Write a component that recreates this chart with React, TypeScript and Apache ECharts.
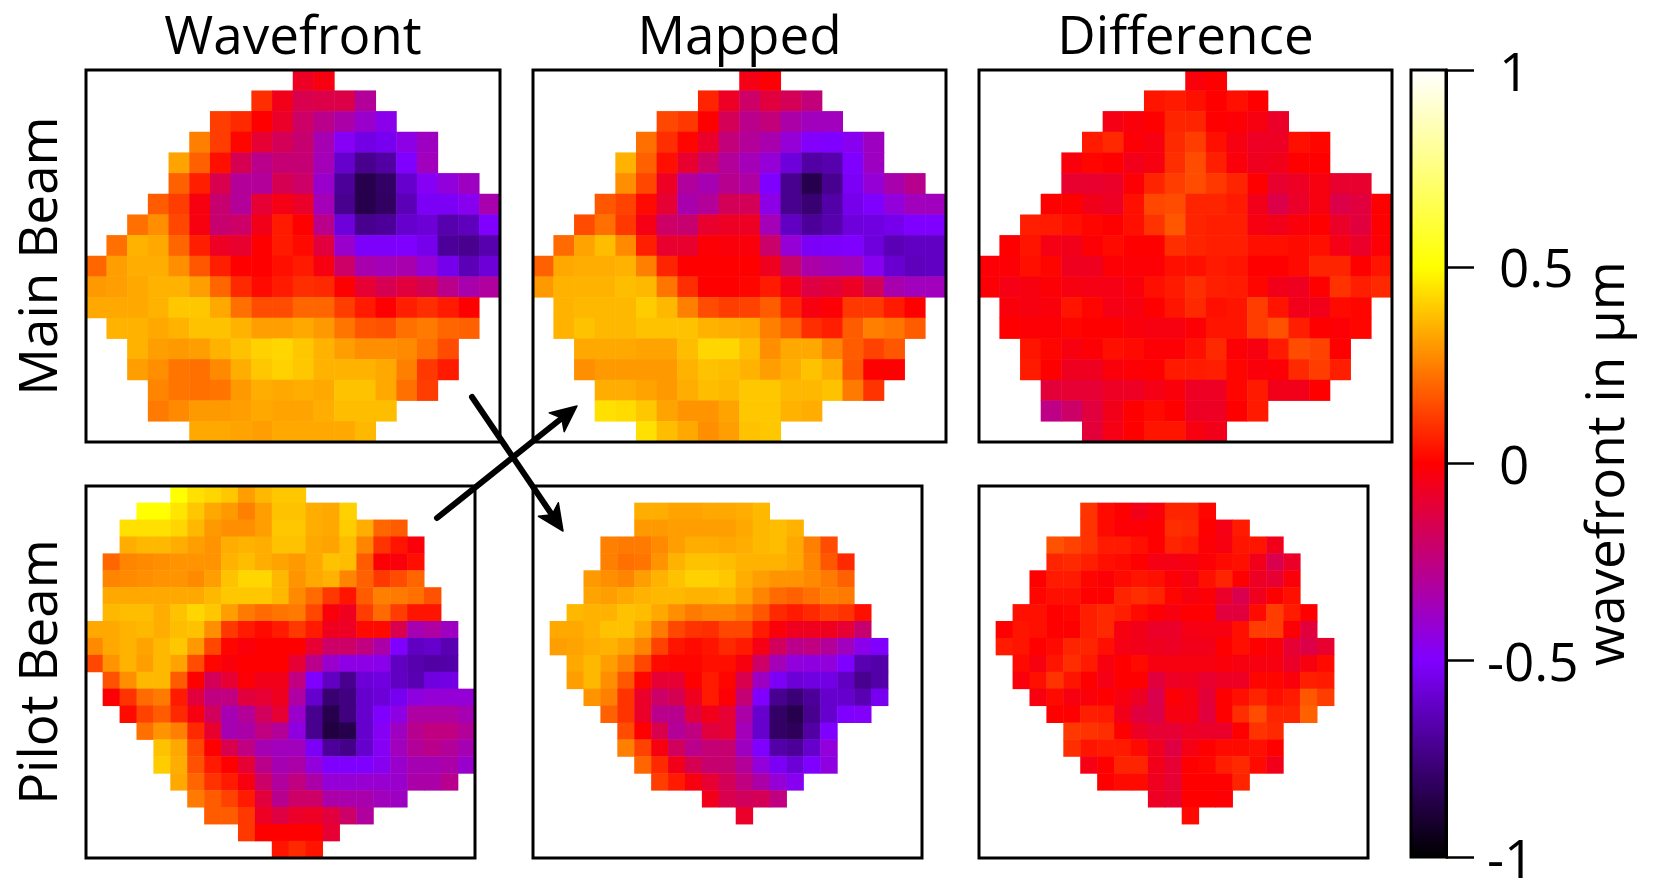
import React, { useEffect, useRef } from "react";
import * as echarts from "echarts";

const FONT = '"Open Sans", sans-serif';
const colormap = ["#000000", "#8000ff", "#ff0000", "#ffff00", "#ffffff"];
const legendTicks = [-1, -0.5, 0, 0.5, 1];
const columnTitles = ["Wavefront", "Mapped", "Difference"];
const rowTitles = ["Main Beam", "Pilot Beam"];
const legendTitle = "wavefront in µm";

const mainStart = [10, 8, 6, 5, 4, 4, 3, 2, 1, 0, 0, 1, 1, 2, 2, 3, 3, 5];
const mainWavefrontStart = [10, 8, 6, 5, 4, 4, 3, 2, 1, 0, 0, 0, 1, 2, 2, 3, 3, 5];
const pilotWavefrontStart = [5, 3, 2, 2, 1, 1, 1, 1, 0, 0, 0, 1, 1, 2, 3, 4, 4, 5, 6, 7, 9, 11];
const pilotStart = [0, 6, 6, 4, 4, 3, 3, 2, 1, 1, 2, 2, 3, 4, 5, 5, 6, 7, 10, 12, 0, 0];

const mainWavefront = [
  [-.07, -.03],
  [.09, -.05, -.15, -.14, -.14, -.3],
  [.12, .08, 0, -.08, -.2, -.27, -.33, -.4, -.46],
  [.25, .12, .01, -.1, -.17, -.22, -.35, -.48, -.55, -.53, -.45, -.38],
  [.32, .19, .03, -.16, -.27, -.23, -.23, -.36, -.6, -.72, -.68, -.5, -.37],
  [.19, .06, -.15, -.3, -.3, -.16, -.2, -.4, -.7, -.85, -.8, -.6, -.48, -.43, -.38],
  [.18, .12, -.03, -.22, -.3, -.1, -.04, -.08, -.36, -.72, -.85, -.81, -.64, -.52, -.52, -.47, -.34],
  [.22, .28, .14, -.03, -.22, -.2, -.05, .05, 0, -.27, -.57, -.72, -.7, -.6, -.58, -.66, -.63, -.5],
  [.22, .35, .33, .2, .06, -.07, -.09, 0, .05, .02, -.12, -.4, -.51, -.51, -.5, -.54, -.7, -.72, -.66],
  [.2, .31, .34, .34, .28, .17, .06, 0, 0, .03, .05, -.03, -.2, -.34, -.36, -.34, -.42, -.54, -.64, -.58],
  [.3, .31, .33, .35, .35, .31, .2, .08, .02, .05, .09, .08, 0, -.1, -.16, -.12, -.16, -.27, -.34, -.31],
  [.33, .33, .33, .35, .39, .39, .33, .22, .15, .15, .2, .2, .12, .05, 0, .06, .09, .05, 0],
  [.35, .35, .33, .35, .38, .38, .35, .31, .31, .33, .3, .23, .17, .16, .22, .24, .2, .19],
  [.35, .31, .3, .31, .35, .38, .41, .42, .39, .35, .31, .28, .28, .27, .22, .15],
  [.31, .28, .23, .22, .27, .34, .39, .41, .39, .35, .35, .35, .33, .25, .11, .05],
  [.26, .23, .22, .23, .3, .34, .33, .34, .33, .38, .38, .33, .22, .12],
  [.24, .27, .3, .3, .31, .33, .32, .32, .34, .37, .37, .37],
  [.33, .33, .32, .31, .33, .33, .33, .33, .36],
];

const mainMapped = [
  [-.04, -.01],
  [.07, -.07, -.2, -.12, -.17, -.24],
  [.14, .11, 0, -.17, -.27, -.24, -.33, -.37, -.37],
  [.22, .09, .01, -.08, -.24, -.3, -.34, -.42, -.49, -.5, -.47, -.38],
  [.35, .19, .03, -.09, -.2, -.3, -.36, -.42, -.57, -.68, -.66, -.5, -.38],
  [.28, .14, -.07, -.31, -.35, -.28, -.32, -.5, -.72, -.85, -.72, -.52, -.42, -.34, -.28],
  [.17, .13, .02, -.1, -.34, -.3, -.17, -.17, -.45, -.72, -.78, -.67, -.54, -.5, -.43, -.37, -.37],
  [.15, .22, .11, -.04, -.2, -.22, -.09, -.07, -.07, -.36, -.62, -.7, -.66, -.57, -.56, -.54, -.5, -.5],
  [.21, .32, .37, .27, .06, -.09, -.09, -.01, -.02, -.02, -.21, -.42, -.52, -.51, -.5, -.57, -.64, -.62, -.62],
  [.19, .33, .34, .34, .35, .25, .07, 0, 0, 0, 0, -.06, -.21, -.33, -.35, -.37, -.47, -.59, -.63, -.62],
  [.3, .35, .35, .35, .37, .36, .23, .09, 0, 0, .01, .05, -.04, -.13, -.11, -.07, -.17, -.34, -.37, -.37],
  [.35, .36, .36, .36, .4, .36, .25, .15, .12, .13, .18, .07, -.03, -.01, .11, .11, .05, 0],
  [.35, .38, .36, .36, .38, .38, .38, .35, .34, .33, .25, .19, .09, .06, .18, .25, .23, .18],
  [.33, .33, .33, .32, .32, .37, .42, .42, .37, .28, .33, .33, .26, .18, .13, .17],
  [.28, .3, .3, .3, .3, .35, .38, .37, .35, .31, .34, .38, .34, .17, 0, 0],
  [.34, .34, .32, .3, .34, .37, .36, .39, .39, .36, .36, .38, .24, .1],
  [.44, .43, .39, .32, .29, .29, .32, .39, .39, .35, .34],
  [.44, .37, .33, .28, .31, .38, .39],
];

const mainDifference = [
  [-.02, 0],
  [.04, .05, .03, 0, .03, 0],
  [-.04, -.02, 0, .07, .07, 0, -.01, -.03, -.08],
  [.05, .08, -.01, -.03, .08, .12, .03, -.03, -.07, -.07, .03, .01],
  [-.02, .01, 0, -.05, -.03, .09, .15, .06, -.02, -.06, -.05, 0, 0],
  [-.09, -.09, -.08, -.01, .07, .12, .15, .11, .07, 0, -.09, -.07, -.03, -.09, -.09],
  [0, 0, -.05, -.07, .03, .14, .15, .07, .07, .05, -.05, -.14, -.08, -.03, -.14, -.12, 0],
  [.06, .05, .03, .01, 0, .03, .1, .17, .07, .06, .06, -.03, -.05, -.02, 0, -.08, -.12, 0],
  [0, .04, -.04, -.05, -.01, .02, 0, 0, .09, .07, .06, .06, .03, .03, .02, .03, -.04, -.08, -.01],
  [-.01, -.01, .03, .01, -.06, -.06, -.01, -.01, -.01, .03, .03, .05, .04, 0, 0, .02, .07, .07, 0, .04],
  [-.01, -.04, -.03, -.01, -.03, -.04, -.04, -.02, .03, .05, .09, .06, .05, .01, -.05, -.06, 0, .1, .06, .08],
  [-.02, -.03, -.02, .04, .01, -.04, -.03, 0, .04, .08, .03, .04, .12, .04, -.05, -.05, .02, .01],
  [0, -.01, -.01, .01, 0, 0, -.02, -.03, -.03, -.01, .04, .04, .12, .16, .06, 0, -.01, .01],
  [.04, .01, -.03, -.01, .03, .02, -.01, -.01, .03, .08, -.01, -.03, .05, .15, .13, 0],
  [.05, 0, -.06, -.06, -.02, -.01, 0, .05, .05, .06, .01, -.02, -.01, .08, .12, .06],
  [-.11, -.1, -.1, -.07, -.07, -.04, -.02, -.07, -.07, .01, .05, -.05, -.05, 0],
  [-.26, -.2, -.12, -.05, 0, .02, 0, -.07, -.07, 0, .05],
  [-.11, -.04, 0, .04, .04, -.03, -.05],
];

const pilotWavefront = [
  [.5, .44, .42, .39, .31, .36, .39, .39],
  [.5, .5, .45, .39, .33, .3, .25, .31, .38, .38, .34, .33, .41],
  [.44, .44, .44, .42, .36, .3, .28, .28, .31, .39, .39, .34, .33, .4, .34, .2, .18],
  [.34, .36, .36, .34, .31, .29, .34, .35, .34, .38, .38, .33, .32, .37, .26, .1, .04, -.02],
  [.2, .26, .27, .28, .29, .29, .29, .35, .37, .34, .32, .3, .33, .38, .37, .18, -.01, -.02, .03],
  [.26, .27, .28, .29, .29, .27, .31, .38, .42, .42, .36, .29, .33, .35, .26, .19, .11, .15, .2],
  [.33, .33, .33, .33, .33, .33, .36, .39, .39, .39, .36, .27, .21, .11, .04, .18, .25, .24, .22, .16],
  [.36, .37, .37, .34, .38, .42, .39, .31, .24, .21, .23, .24, .14, -.02, -.06, .12, .21, .12, .04, .04],
  [.33, .33, .35, .36, .34, .37, .38, .28, .11, .05, .02, .05, .11, .05, -.06, -.07, .02, .02, -.15, -.35, -.32, -.38],
  [.27, .33, .35, .32, .36, .39, .3, .14, .01, -.02, 0, 0, 0, -.1, -.2, -.2, -.25, -.33, -.5, -.62, -.6, -.65],
  [.14, .29, .35, .31, .36, .32, .15, .01, -.02, 0, 0, 0, -.1, -.27, -.4, -.45, -.45, -.46, -.62, -.66, -.68, -.67],
  [.16, .28, .36, .36, .18, 0, -.17, -.1, -.01, -.05, -.05, -.25, -.5, -.62, -.72, -.58, -.56, -.62, -.65, -.56, -.55],
  [-.01, .1, .21, .24, .05, -.12, -.25, -.25, -.12, -.1, -.06, -.32, -.6, -.78, -.75, -.6, -.58, -.53, -.44, -.42, -.42, -.42],
  [.02, .13, .18, .08, -.03, -.18, -.35, -.3, -.18, -.1, -.4, -.72, -.85, -.75, -.6, -.5, -.45, -.32, -.32, -.32, -.35],
  [.22, .29, .25, .08, -.09, -.35, -.33, -.25, -.3, -.44, -.72, -.87, -.85, -.6, -.48, -.38, -.28, -.25, -.25, -.3],
  [.38, .33, .14, 0, -.15, -.25, -.35, -.37, -.37, -.52, -.7, -.73, -.6, -.48, -.37, -.3, -.27, -.3, -.35],
  [.4, .34, .16, .05, 0, -.1, -.27, -.35, -.33, -.43, -.5, -.5, -.5, -.47, -.4, -.35, -.35, -.33, -.4],
  [.33, .2, .1, .05, -.03, -.2, -.31, -.25, -.33, -.42, -.42, -.41, -.41, -.4, -.33, -.33, -.28],
  [.24, .18, .13, .05, -.12, -.28, -.2, -.2, -.33, -.34, -.34, -.37, -.38],
  [.18, .18, .11, -.07, -.13, -.08, -.07, -.12, -.2, -.31],
  [.11, 0, 0, 0, 0, -.1],
  [.04, .08, .04],
];

const pilotMapped = [
  [],
  [.34, .34, .32, .32, .33, .33, .34, .36],
  [.3, .3, .31, .31, .31, .31, .33, .36, .37, .35],
  [.25, .24, .24, .27, .31, .34, .34, .33, .34, .36, .37, .33, .25, .15],
  [.25, .22, .23, .29, .35, .38, .38, .37, .35, .35, .35, .33, .26, .17, .08],
  [.3, .28, .26, .31, .35, .38, .41, .41, .39, .34, .31, .29, .29, .27, .24, .19],
  [.32, .31, .33, .35, .36, .36, .35, .35, .36, .32, .26, .21, .19, .22, .25, .24],
  [.36, .35, .35, .38, .37, .33, .28, .24, .26, .26, .23, .17, .08, .05, .08, .12, .1, .03],
  [.33, .33, .35, .38, .38, .33, .24, .14, .1, .09, .14, .14, .05, -.02, -.06, -.06, -.06, -.1, -.22],
  [.31, .32, .34, .35, .32, .26, .13, .04, .02, .04, .08, .05, -.04, -.18, -.27, -.25, -.3, -.37, -.46, -.5],
  [.33, .36, .31, .25, .14, .02, .01, .01, .03, .03, -.03, -.2, -.36, -.43, -.44, -.43, -.5, -.65, -.67],
  [.31, .36, .28, .17, .01, -.1, -.1, 0, .05, .01, -.15, -.38, -.52, -.58, -.56, -.55, -.62, -.72, -.67],
  [.29, .25, .1, -.08, -.2, -.16, -.06, .05, -.01, -.23, -.5, -.72, -.77, -.7, -.6, -.6, -.65, -.53],
  [.19, .1, -.08, -.27, -.28, -.12, -.05, -.1, -.33, -.6, -.8, -.85, -.72, -.6, -.5, -.49],
  [.15, 0, -.15, -.3, -.25, -.12, -.1, -.36, -.6, -.8, -.82, -.68, -.5],
  [.25, .13, -.03, -.18, -.27, -.23, -.22, -.38, -.5, -.67, -.7, -.6, -.43],
  [.2, .08, -.05, -.16, -.22, -.22, -.3, -.43, -.52, -.58, -.5, -.44],
  [.12, .05, -.03, -.1, -.17, -.25, -.33, -.42, -.47],
  [-.05, -.15, -.18, -.17, -.25],
  [-.08],
  [],
  [],
];

const pilotDifference = [
  [],
  [.1, .02, 0, -.05, -.02, .07, .07, .01],
  [.1, .02, -.01, -.01, 0, .09, .08, 0, -.04, .05],
  [.16, .13, .1, .05, .05, .03, 0, .07, .05, -.01, -.03, .04, .04, -.05],
  [.07, .08, .06, .03, .02, 0, -.04, -.04, -.03, -.01, .02, .03, -.05, -.15, -.08],
  [0, .05, .05, .01, -.01, .02, .04, .03, -.01, -.04, .03, .07, 0, -.07, -.1, -.02],
  [.01, .03, .03, 0, 0, .07, .09, .07, .01, -.03, -.01, -.08, -.15, -.06, 0, .03],
  [.03, .03, 0, .01, .06, .08, .06, .02, -.01, -.03, 0, 0, -.12, -.12, .02, .12, .05, 0],
  [0, .04, .03, 0, 0, .06, .08, -.03, -.05, -.08, -.08, -.04, -.03, -.03, .03, .12, .12, -.01, -.12],
  [.05, .04, 0, .02, .07, .07, .03, -.04, -.05, -.06, -.07, -.05, -.05, 0, .03, 0, -.02, -.1, -.14, -.09],
  [.02, -.03, .04, .09, .05, -.03, 0, .02, -.03, -.03, -.03, -.03, -.02, -.03, -.03, -.03, -.08, -.03, .02],
  [-.02, .03, .1, .04, 0, -.04, 0, 0, -.12, -.07, -.06, -.09, -.07, -.07, .01, .01, -.02, .06, .05],
  [-.03, .02, -.03, -.02, 0, -.03, -.07, -.15, -.01, -.03, -.11, 0, .03, .07, .03, .05, .17, .12],
  [0, 0, .06, .05, -.05, -.12, -.14, -.03, -.03, -.12, 0, .09, .15, .07, .07, .19],
  [.11, .1, .09, 0, -.07, -.1, -.1, -.07, -.08, -.08, 0, .1, .08],
  [.09, .04, .05, .05, .02, -.06, -.13, -.04, 0, .02, .02, .03, 0],
  [-.04, 0, .07, .07, -.05, -.1, 0, .01, .06, .08, .02, -.05],
  [0, .02, .02, -.06, -.1, 0, 0, 0, .07],
  [-.07, -.09, 0, 0, -.01],
  [.02],
  [],
  [],
];

const panels = [
  { rows: mainWavefront, starts: mainWavefrontStart, cols: 20, nRows: 18, left: 86, top: 70, width: 414, col: 0, row: 0 },
  { rows: mainMapped, starts: mainStart, cols: 20, nRows: 18, left: 533, top: 70, width: 413, col: 1, row: 0 },
  { rows: mainDifference, starts: mainStart, cols: 20, nRows: 18, left: 979, top: 70, width: 413, col: 2, row: 0 },
  { rows: pilotWavefront, starts: pilotWavefrontStart, cols: 23, nRows: 22, left: 86, top: 486, width: 389, col: 0, row: 1 },
  { rows: pilotMapped, starts: pilotStart, cols: 23, nRows: 22, left: 533, top: 486, width: 389, col: 1, row: 1 },
  { rows: pilotDifference, starts: pilotStart, cols: 23, nRows: 22, left: 979, top: 486, width: 389, col: 2, row: 1 },
];

const arrows = [
  { from: [472, 397], to: [563, 531] },
  { from: [437, 518], to: [577, 406] },
];

function arrowGraphics() {
  const out: any[] = [];
  for (const { from, to } of arrows) {
    const dx = to[0] - from[0];
    const dy = to[1] - from[1];
    const len = Math.hypot(dx, dy);
    const ux = dx / len;
    const uy = dy / len;
    const L = 26;
    const W = 12;
    out.push({
      type: "line",
      z: 20,
      shape: { x1: from[0], y1: from[1], x2: to[0] - ux * L * 0.6, y2: to[1] - uy * L * 0.6 },
      style: { stroke: "#000", lineWidth: 6, lineCap: "round" },
    });
    out.push({
      type: "polygon",
      z: 20,
      shape: {
        points: [
          to,
          [to[0] - ux * L - uy * W, to[1] - uy * L + ux * W],
          [to[0] - ux * L * 0.75, to[1] - uy * L * 0.75],
          [to[0] - ux * L + uy * W, to[1] - uy * L - ux * W],
        ],
      },
      style: { fill: "#000", stroke: "#000", lineWidth: 1.5, lineJoin: "round" },
    });
  }
  return out;
}

function buildOption() {
  const nameStyle = { fontFamily: FONT, fontSize: 53, color: "#000" };
  const grid: any[] = [];
  const xAxis: any[] = [];
  const yAxis: any[] = [];
  const series: any[] = [];
  panels.forEach((p, i) => {
    grid.push({
      left: p.left,
      top: p.top,
      width: p.width,
      height: 372,
      show: true,
      z: 5,
      outerBoundsMode: "none",
      backgroundColor: "transparent",
      borderColor: "#000",
      borderWidth: 3,
    });
    const hidden = {
      axisLine: { show: false },
      axisTick: { show: false },
      axisLabel: { show: false },
      splitLine: { show: false },
      splitArea: { show: false },
    };
    xAxis.push({
      type: "category",
      gridIndex: i,
      position: "top",
      data: Array.from({ length: p.cols }, (_, k) => String(k)),
      name: p.row === 0 ? columnTitles[p.col] : "",
      nameLocation: "middle",
      nameGap: 10,
      nameTextStyle: nameStyle,
      ...hidden,
    });
    yAxis.push({
      type: "category",
      gridIndex: i,
      inverse: true,
      data: Array.from({ length: p.nRows }, (_, k) => String(k)),
      name: p.col === 0 ? rowTitles[p.row] : "",
      nameLocation: "middle",
      nameRotate: 90,
      nameGap: 23,
      nameTextStyle: nameStyle,
      ...hidden,
    });
    const data: number[][] = [];
    p.rows.forEach((row, r) => {
      row.forEach((v, k) => data.push([p.starts[r] + k, r, v]));
    });
    series.push({
      type: "heatmap",
      xAxisIndex: i,
      yAxisIndex: i,
      data,
      silent: true,
      progressive: 0,
      itemStyle: { borderWidth: 0 },
    });
  });

  // colour bar frame, ticks and labels
  const bar = panels.length;
  grid.push({
    left: 1411,
    top: 70,
    width: 35,
    height: 787,
    show: true,
    z: 5,
    outerBoundsMode: "none",
    backgroundColor: "transparent",
    borderColor: "#000",
    borderWidth: 3,
  });
  xAxis.push({ type: "value", gridIndex: bar, show: false, min: 0, max: 1 });
  const tickLabelStyle = { fontFamily: FONT, fontSize: 53, color: "#000", padding: [18, 0, 0, 0], align: "left" };
  yAxis.push({
    type: "value",
    gridIndex: bar,
    position: "right",
    min: -1,
    max: 1,
    interval: 0.5,
    name: legendTitle,
    nameLocation: "middle",
    nameRotate: 90,
    nameGap: 130,
    nameTextStyle: nameStyle,
    axisLine: { show: true, onZero: false, lineStyle: { color: "#000", width: 3 } },
    axisTick: { show: true, length: 28, lineStyle: { color: "#000", width: 2.5 } },
    splitLine: { show: false },
    axisLabel: {
      ...tickLabelStyle,
      margin: 53,
      formatter: (v: number) => (v >= 0 && legendTicks.includes(v) ? String(v) : ""),
    },
  });
  yAxis.push({
    type: "value",
    gridIndex: bar,
    position: "right",
    min: -1,
    max: 1,
    interval: 0.5,
    axisLine: { show: false, onZero: false },
    axisTick: { show: false },
    splitLine: { show: false },
    axisLabel: {
      ...tickLabelStyle,
      margin: 41,
      formatter: (v: number) => (v < 0 && legendTicks.includes(v) ? String(v) : ""),
    },
  });

  return {
    animation: false,
    backgroundColor: "#fff",
    grid,
    xAxis,
    yAxis,
    series,
    visualMap: {
      type: "continuous",
      min: -1,
      max: 1,
      seriesIndex: panels.map((_, i) => i),
      left: 1411,
      top: 70,
      itemWidth: 35,
      itemHeight: 787,
      padding: 0,
      calculable: false,
      hoverLink: false,
      inRange: { color: colormap },
    },
    graphic: arrowGraphics(),
  };
}

export default function App() {
  const ref = useRef<HTMLDivElement>(null);
  useEffect(() => {
    const chart = echarts.init(ref.current!, undefined, { renderer: "svg" });
    chart.setOption(buildOption() as any);
    return () => chart.dispose();
  }, []);
  return <div ref={ref} style={{ position: "absolute", left: 0, top: 0, width: 1661, height: 883 }} />;
}
